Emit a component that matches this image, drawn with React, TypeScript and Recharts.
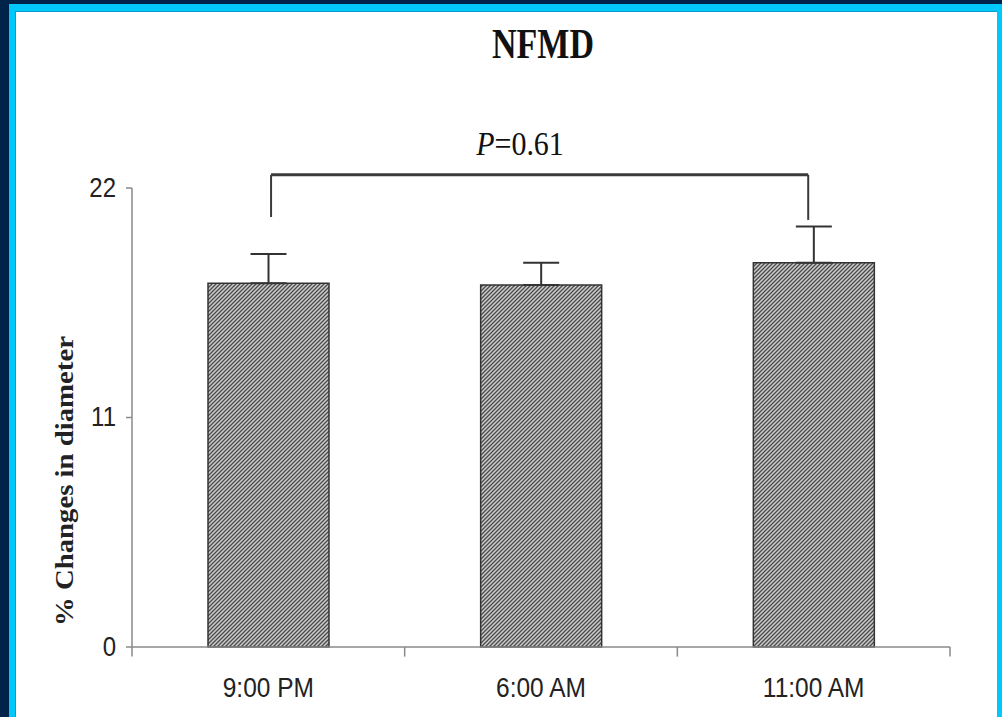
import React from 'react';
import { BarChart, Bar, XAxis, YAxis, ErrorBar, ReferenceLine } from 'recharts';

const categories = ['9:00 PM', '6:00 AM', '11:00 AM'];
const means = [17.43, 17.35, 18.42];
const errors = [1.41, 1.07, 1.73];
const yTicks = [0, 11, 22];
const boundaries = [0, 1, 2, 3];
const bracketY = 22.63;
const bracketLeftX = 0.51;
const bracketRightX = 2.48;
const bracketLeftBottom = 20.61;
const bracketRightBottom = 20.47;
const title = 'NFMD';
const yLabel = '% Changes in diameter';
const pValue = '=0.61';

const data = categories.map((c, i) => ({ name: c, mean: means[i], err: [0, errors[i]], pos: i + 0.5 }));

const serif = '"Liberation Serif", "Times New Roman", serif';
const sans = '"Liberation Sans", Arial, sans-serif';

const YTick = (props: any) => {
  const { x, y, payload } = props;
  return (
    <g transform={`translate(${x},${y}) scale(1,1.12)`}>
      <text x={-8} y={8} textAnchor="end" fontFamily={sans} fontSize={24} fill="#222">
        {payload.value}
      </text>
    </g>
  );
};

const XTick = (props: any) => {
  const { x, y, payload } = props;
  return (
    <g transform={`translate(${x},${y + 50}) scale(1,1.15)`}>
      <text x={0} y={0} textAnchor="middle" fontFamily={sans} fontSize={24.5} fill="#222">
        {payload.value}
      </text>
    </g>
  );
};

export default function App() {
  return (
    <div style={{ position: 'absolute', left: 0, top: 0, width: 1002, height: 717, background: '#00234a', overflow: 'hidden' }}>
      <div style={{ position: 'absolute', left: 9, top: 4, width: 993, height: 713, background: '#00c8fa' }} />
      <div style={{ position: 'absolute', left: 15, top: 11, width: 982, height: 706, background: '#ffffff', borderLeft: '1px solid #0a9ccc', borderTop: '1px solid #0a9ccc', boxSizing: 'border-box' }} />
      <svg width={0} height={0} style={{ position: 'absolute' }}>
        <defs>
          <pattern id="hatch" width={4} height={4} patternUnits="userSpaceOnUse">
            <rect width={4} height={4} fill="#cdcdcd" />
            <path d="M-1,1 L1,-1 M0,4 L4,0 M3,5 L5,3" stroke="#4a4a4a" strokeWidth={1.3} />
          </pattern>
        </defs>
      </svg>
      <div style={{ position: 'absolute', left: 0, top: 0 }}>
        <BarChart width={1002} height={717} data={data} margin={{ top: 188, right: 52, bottom: 10, left: 72 }}>
          <XAxis
            dataKey="name"
            height={60}
            axisLine={{ stroke: '#8a8a8a', strokeWidth: 1.5 }}
            tickLine={false}
            tickSize={0}
            tickMargin={0}
            tick={<XTick />}
            interval={0}
          />
          <XAxis xAxisId="b" dataKey="pos" type="number" domain={[0, 3]} allowDataOverflow hide />
          <YAxis
            width={60}
            domain={[0, 22]}
            ticks={yTicks}
            interval={0}
            axisLine={{ stroke: '#8a8a8a', strokeWidth: 1.5 }}
            tickLine={{ stroke: '#8a8a8a', strokeWidth: 1.5 }}
            tickSize={6}
            tick={<YTick />}
          />
          <Bar dataKey="mean" fill="url(#hatch)" stroke="#333" strokeWidth={1.5} barSize={121} isAnimationActive={false}>
            <ErrorBar dataKey="err" width={18} stroke="#333" strokeWidth={2} direction="y" />
          </Bar>
          {boundaries.map((b) => (
            <ReferenceLine
              key={`b${b}`}
              xAxisId="b"
              segment={[{ x: b, y: 0 }, { x: b, y: -0.46 }]}
              stroke="#8a8a8a"
              strokeWidth={1.5}
              ifOverflow="visible"
            />
          ))}
          <ReferenceLine
            xAxisId="b"
            segment={[{ x: bracketLeftX, y: bracketY }, { x: bracketRightX, y: bracketY }]}
            stroke="#3a3a3a"
            strokeWidth={3}
            ifOverflow="visible"
          />
          <ReferenceLine
            xAxisId="b"
            segment={[{ x: bracketLeftX, y: bracketY }, { x: bracketLeftX, y: bracketLeftBottom }]}
            stroke="#3a3a3a"
            strokeWidth={2}
            ifOverflow="visible"
          />
          <ReferenceLine
            xAxisId="b"
            segment={[{ x: bracketRightX, y: bracketY }, { x: bracketRightX, y: bracketRightBottom }]}
            stroke="#3a3a3a"
            strokeWidth={2}
            ifOverflow="visible"
          />
        </BarChart>
      </div>
      <svg width={1002} height={717} style={{ position: 'absolute', left: 0, top: 0, pointerEvents: 'none' }}>
        <text transform="translate(543,58) scale(1,1.25)" textAnchor="middle" fontFamily={serif} fontWeight="bold" fontSize={34} fill="#111">
          {title}
        </text>
        <text transform="translate(520,155) scale(1,1.1)" textAnchor="middle" fontFamily={serif} fontSize={30} fill="#111">
          <tspan fontStyle="italic">P</tspan>
          {pValue}
        </text>
        <text transform="translate(65,481) rotate(-90) scale(1.15,1)" textAnchor="middle" dominantBaseline="central" fontFamily={serif} fontWeight="bold" fontSize={25} fill="#222">
          {yLabel}
        </text>
      </svg>
    </div>
  );
}
